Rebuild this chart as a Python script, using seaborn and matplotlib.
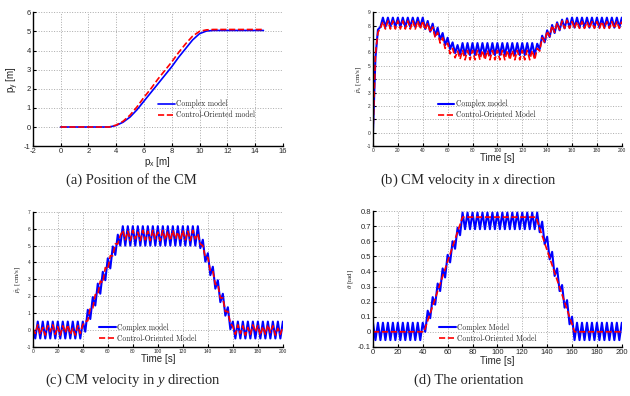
import matplotlib
matplotlib.use("Agg")
import matplotlib.pyplot as plt
import seaborn as sns

# (a) position of the CM: p_x vs p_y
px_cx = [0, 3.5, 4, 4.5, 5, 5.5, 6, 6.5, 7, 7.5, 8, 8.5, 9, 9.5, 10, 10.5, 11, 14.6]
py_cx = [0, 0, 0.08, 0.25, 0.52, 0.9, 1.35, 1.8, 2.25, 2.7, 3.15, 3.65, 4.1, 4.55, 4.88, 5.02, 5.05, 5.05]
px_co = [0, 3.5, 4, 4.5, 5, 5.5, 6, 6.5, 7, 7.5, 8, 8.5, 9, 9.5, 10, 10.5, 11, 14.5]
py_co = [0, 0, 0.1, 0.3, 0.62, 1.05, 1.55, 2.0, 2.5, 2.95, 3.4, 3.9, 4.35, 4.75, 5.0, 5.08, 5.1, 5.1]

# sample times for (b)-(d), every 2 s
t_s = list(range(0, 201, 2))

# (b) velocity in x [cm/s]
vx_cx = [0.0, 5.6, 7.7, 7.9, 8.6,
         7.9, 8.6, 7.9, 8.6, 7.9, 8.6, 7.9, 8.6, 7.9, 8.6, 7.9, 8.6, 7.9, 8.6, 7.9, 8.6,
         7.75, 8.35, 7.55, 8.15, 7.25, 7.85, 6.95, 7.45, 6.55, 7.1, 6.25, 6.75, 5.95, 6.55, 5.85,
         6.7, 5.8, 6.7, 5.8, 6.7, 5.8, 6.7, 5.8, 6.7, 5.8, 6.7, 5.8, 6.7, 5.8, 6.7,
         5.8, 6.7, 5.8, 6.7, 5.8, 6.7, 5.8, 6.7, 5.8, 6.7, 5.8, 6.7, 5.8, 6.7, 5.8,
         6.65, 6.25, 7.25, 6.75, 7.65, 7.15, 8.05, 7.45, 8.25, 7.65, 8.45, 7.8, 8.55, 7.85,
         8.6, 7.85, 8.6, 7.85, 8.6, 7.85, 8.6, 7.85, 8.6, 7.85, 8.6,
         7.85, 8.6, 7.85, 8.6, 7.85, 8.6, 7.85, 8.6, 7.85, 8.6]
vx_co = [0.0, 5.9, 7.5, 7.8, 8.3,
         7.75, 8.35, 7.75, 8.35, 7.75, 8.35, 7.75, 8.35, 7.75, 8.35, 7.75, 8.35, 7.75, 8.35, 7.75, 8.35,
         7.7, 8.2, 7.5, 7.9, 7.1, 7.5, 6.7, 7.1, 6.3, 6.7, 5.9, 6.3, 5.6, 6.1, 5.5,
         6.15, 5.45, 6.15, 5.45, 6.15, 5.45, 6.15, 5.45, 6.15, 5.45, 6.15, 5.45, 6.15, 5.45, 6.15,
         5.45, 6.15, 5.45, 6.15, 5.45, 6.15, 5.45, 6.15, 5.45, 6.15, 5.45, 6.15, 5.45, 6.15, 5.45,
         6.3, 6.1, 7.1, 6.8, 7.6, 7.2, 8.0, 7.5, 8.2, 7.7, 8.35, 7.8, 8.4, 7.8,
         8.3, 7.8, 8.3, 7.8, 8.3, 7.8, 8.3, 7.8, 8.3, 7.8, 8.3,
         7.8, 8.3, 7.8, 8.3, 7.8, 8.3, 7.8, 8.3, 7.8, 8.3]

# (c) velocity in y [cm/s]
vy_cx = [0.05, -0.5, 0.5, -0.5, 0.5, -0.5, 0.5, -0.5, 0.5, -0.5, 0.5,
         -0.5, 0.5, -0.5, 0.5, -0.5, 0.5, -0.5, 0.5, -0.5, 0.5,
         -0.1, 1.2, 0.65, 1.95, 1.45, 2.75, 2.15, 3.45, 2.95, 4.25, 3.65, 4.95, 4.45, 5.65, 5.0,
         6.15, 5.0, 6.15, 5.0, 6.15, 5.0, 6.15, 5.0, 6.15, 5.0, 6.15, 5.0, 6.15, 5.0, 6.15, 5.0,
         6.15, 5.0, 6.15, 5.0, 6.15, 5.0, 6.15, 5.0, 6.15, 5.0, 6.15, 5.0, 6.15, 5.0, 6.15,
         4.85, 5.35, 4.05, 4.55, 3.25, 3.75, 2.45, 2.95, 1.65, 2.15, 0.85, 1.35, 0.05, 0.5,
         -0.5, 0.5, -0.5, 0.5, -0.5, 0.5, -0.5, 0.5, -0.5, 0.5,
         -0.5, 0.5, -0.5, 0.5, -0.5, 0.5, -0.5, 0.5, -0.5, 0.5]
vy_co = [0.1, -0.2, 0.3, -0.25, 0.15, -0.3, 0.25, -0.1, 0.3, -0.25, 0.2,
         -0.3, 0.25, -0.15, 0.3, -0.25, 0.1, -0.3, 0.25, -0.2, 0.3,
         0.5, 0.55, 1.3, 1.3, 2.1, 2.1, 2.9, 2.8, 3.7, 3.6, 4.4, 4.4, 5.1, 5.1, 5.6,
         5.9, 5.35, 5.85, 5.3, 5.9, 5.4, 5.8, 5.3, 5.9, 5.35, 5.85, 5.3, 5.9, 5.4, 5.8,
         5.3, 5.9, 5.35, 5.85, 5.3, 5.9, 5.4, 5.8, 5.3, 5.9, 5.35, 5.85, 5.3, 5.9, 5.4,
         5.7, 5.1, 5.0, 4.3, 4.3, 3.5, 3.5, 2.7, 2.7, 1.9, 1.9, 1.1, 1.1, 0.4, 0.2,
         -0.25, 0.3, -0.2, 0.25, -0.3, 0.15, -0.25, 0.3, -0.1, 0.25,
         -0.3, 0.2, -0.25, 0.3, -0.15, 0.25, -0.3, 0.1, -0.25, 0.2]

# (d) orientation [rad]
theta_cx = [0.06, -0.055, 0.06, -0.055, 0.06, -0.055, 0.06, -0.055, 0.06, -0.055, 0.06,
            -0.055, 0.06, -0.055, 0.06, -0.055, 0.06, -0.055, 0.06, -0.055, 0.06,
            0.0, 0.14, 0.09, 0.23, 0.18, 0.32, 0.27, 0.42, 0.36, 0.51, 0.46, 0.60, 0.55, 0.69, 0.64,
            0.79, 0.68, 0.79, 0.68, 0.79, 0.68, 0.79, 0.68, 0.79, 0.68, 0.79, 0.68, 0.79, 0.68, 0.79, 0.68,
            0.79, 0.68, 0.79, 0.68, 0.79, 0.68, 0.79, 0.68, 0.79, 0.68, 0.79, 0.68, 0.79, 0.68, 0.79,
            0.66, 0.73, 0.58, 0.63, 0.48, 0.53, 0.37, 0.42, 0.27, 0.31, 0.16, 0.21, 0.05, 0.10,
            -0.055, 0.06, -0.055, 0.06, -0.055, 0.06, -0.055, 0.06, -0.055, 0.06,
            -0.055, 0.06, -0.055, 0.06, -0.055, 0.06, -0.055, 0.06, -0.055, 0.06]
t_co_d = [0, 41, 72, 131, 162, 200]
theta_co = [0, 0, 0.76, 0.76, 0, 0]

sns.set_style("whitegrid", {"grid.linestyle": ":", "grid.color": "#aaaaaa",
                            "axes.edgecolor": "black", "xtick.direction": "in",
                            "ytick.direction": "in"})
plt.rcParams["font.family"] = ["Liberation Sans", "DejaVu Sans"]
plt.rcParams["axes.unicode_minus"] = False
plt.rcParams["mathtext.fontset"] = "custom"
plt.rcParams["mathtext.rm"] = "Liberation Serif"
plt.rcParams["mathtext.it"] = "Liberation Serif:italic"
plt.rcParams["grid.linewidth"] = 0.7

fig = plt.figure(figsize=(6.3, 3.96), dpi=100)
ax_a = fig.add_axes([0.052, 0.631, 0.397, 0.338])
ax_b = fig.add_axes([0.592, 0.631, 0.395, 0.338])
ax_c = fig.add_axes([0.052, 0.124, 0.397, 0.341])
ax_d = fig.add_axes([0.592, 0.124, 0.395, 0.343])

leg_kw = dict(frameon=False, prop={"family": "cmr10", "size": 5.5}, handlelength=2.2,
              handletextpad=0.2, labelspacing=0.35, borderpad=0, borderaxespad=0)

# (a)
sns.lineplot(x=px_cx, y=py_cx, ax=ax_a, color="blue", lw=1.2, sort=False, label="Complex model")
sns.lineplot(x=px_co, y=py_co, ax=ax_a, color="red", lw=1.2, ls="--", sort=False,
             label="Control-Oriented model")
ax_a.set_xlim(-2, 16)
ax_a.set_ylim(-1, 6)
ax_a.set_xticks(range(-2, 17, 2))
ax_a.set_yticks(range(-1, 7))
ax_a.set_xlabel("p$_\\mathregular{x}$ [m]", fontsize=7, labelpad=0)
ax_a.set_ylabel("p$_\\mathregular{y}$ [m]", fontsize=7, labelpad=2)
ax_a.tick_params(labelsize=5.5, length=2, pad=1.5)
ax_a.legend(loc="lower left", bbox_to_anchor=(0.5, 0.2), **leg_kw)

# (b)
sns.lineplot(x=t_s, y=vx_cx, ax=ax_b, color="blue", lw=1.5, label="Complex model")
sns.lineplot(x=t_s, y=vx_co, ax=ax_b, color="red", lw=1.2, ls="--", label="Control-Oriented Model")
ax_b.set_xlim(0, 200)
ax_b.set_ylim(-1, 9)
ax_b.set_xticks(range(0, 201, 20))
ax_b.set_yticks(range(-1, 10))
ax_b.set_xlabel("Time [s]", fontsize=7, labelpad=0)
ax_b.set_ylabel(r"$\dot{p}_x\ [\mathrm{cm/s}]$", fontsize=5, labelpad=2)
ax_b.tick_params(labelsize=3.5, length=2, pad=1.5)
ax_b.legend(loc="lower left", bbox_to_anchor=(0.26, 0.2), **leg_kw)

# (c)
sns.lineplot(x=t_s, y=vy_cx, ax=ax_c, color="blue", lw=1.5, label="Complex model")
sns.lineplot(x=t_s, y=vy_co, ax=ax_c, color="red", lw=1.2, ls="--", label="Control-Oriented Model")
ax_c.set_xlim(0, 200)
ax_c.set_ylim(-1, 7)
ax_c.set_xticks(range(0, 201, 20))
ax_c.set_yticks(range(-1, 8))
ax_c.set_xlabel("Time [s]", fontsize=7, labelpad=0)
ax_c.set_ylabel(r"$\dot{p}_y\ [\mathrm{cm/s}]$", fontsize=5, labelpad=2)
ax_c.tick_params(labelsize=3.5, length=2, pad=1.5)
ax_c.legend(loc="lower left", bbox_to_anchor=(0.264, 0.03), **leg_kw)

# (d)
sns.lineplot(x=t_s, y=theta_cx, ax=ax_d, color="blue", lw=1.5, label="Complex Model")
sns.lineplot(x=t_co_d, y=theta_co, ax=ax_d, color="red", lw=1.2, ls="--", label="Control-Oriented Model")
ax_d.set_xlim(0, 200)
ax_d.set_ylim(-0.1, 0.8)
ax_d.set_xticks(range(0, 201, 20))
ax_d.set_yticks([-0.1, 0, 0.1, 0.2, 0.3, 0.4, 0.5, 0.6, 0.7, 0.8])
ax_d.set_yticklabels(["-0.1", "0", "0.1", "0.2", "0.3", "0.4", "0.5", "0.6", "0.7", "0.8"])
ax_d.set_xlabel("Time [s]", fontsize=7, labelpad=0)
ax_d.set_ylabel(r"$\theta\ [\mathrm{rad}]$", fontsize=5, labelpad=2)
ax_d.tick_params(labelsize=5.5, length=2, pad=1.5)
ax_d.legend(loc="lower left", bbox_to_anchor=(0.265, 0.03), **leg_kw)

for ax in (ax_a, ax_b, ax_c, ax_d):
    for s in ("top", "right"):
        ax.spines[s].set_visible(False)
    for s in ("left", "bottom"):
        ax.spines[s].set_color("black")
        ax.spines[s].set_linewidth(1.0)
    ax.tick_params(left=True, bottom=True, color="black")

cap_kw = dict(ha="center", va="center", family="Liberation Serif", size=10.5)
fig.text(0.208, 0.545, "(a) Position of the CM", **cap_kw)
fig.text(0.744, 0.545, "(b) CM velocity in $x$ direction", **cap_kw)
fig.text(0.211, 0.040, "(c) CM velocity in $y$ direction", **cap_kw)
fig.text(0.744, 0.040, "(d) The orientation", **cap_kw)

fig.savefig("out.png", dpi=100)
